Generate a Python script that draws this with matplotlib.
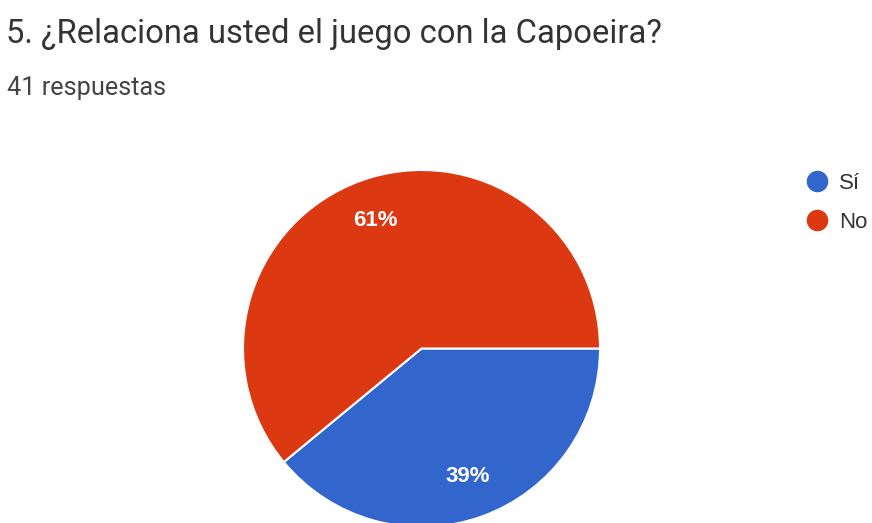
import matplotlib
matplotlib.use("Agg")
import matplotlib.pyplot as plt
from matplotlib.lines import Line2D

title = "5. ¿Relaciona usted el juego con la Capoeira?"
subtitle = "41 respuestas"
categories = ["Sí", "No"]
counts = [16, 25]
colors = ["#3366CC", "#DC3912"]

W, H = 872, 523
fig = plt.figure(figsize=(W / 100, H / 100), dpi=100)
fig.patch.set_facecolor("white")
plt.rcParams["font.family"] = ["Roboto", "DejaVu Sans"]

# pie axes in pixel coordinates
cx, cy, r = 421.5, 348.5, 178.5
ax = fig.add_axes([(cx - r) / W, (H - cy - r) / H, 2 * r / W, 2 * r / H])
wedges, texts, autotexts = ax.pie(
    counts, colors=colors, startangle=0, counterclock=False,
    autopct=lambda p: f"{p:.0f}%", pctdistance=0.76,
    wedgeprops=dict(edgecolor="white", linewidth=1.5),
    textprops=dict(color="white", fontsize=16, fontweight="bold",
                   family=["Liberation Sans", "DejaVu Sans"]),
)
ax.set_xlim(-1, 1)
ax.set_ylim(-1, 1)
ax.set_aspect("equal")
ax.axis("off")

fig.text(6 / W, 1 - 43 / H, title, fontsize=23.6, color="#333333", va="baseline", ha="left")
fig.text(7 / W, 1 - 95 / H, subtitle, fontsize=18.2, color="#444444", va="baseline", ha="left")

handles = [Line2D([], [], marker="o", linestyle="none", markersize=14.5,
                  markerfacecolor=c, markeredgecolor=c) for c in colors]
fig.legend(handles, categories, loc="upper left", bbox_to_anchor=(806 / W, 1 - 173 / H),
           frameon=False, prop=dict(family=["Liberation Sans", "DejaVu Sans"], size=16),
           labelspacing=0.8, handletextpad=0.5, handlelength=1.0,
           borderaxespad=0, borderpad=0, labelcolor="#333333")

fig.savefig("out.png", dpi=100, facecolor="white")
